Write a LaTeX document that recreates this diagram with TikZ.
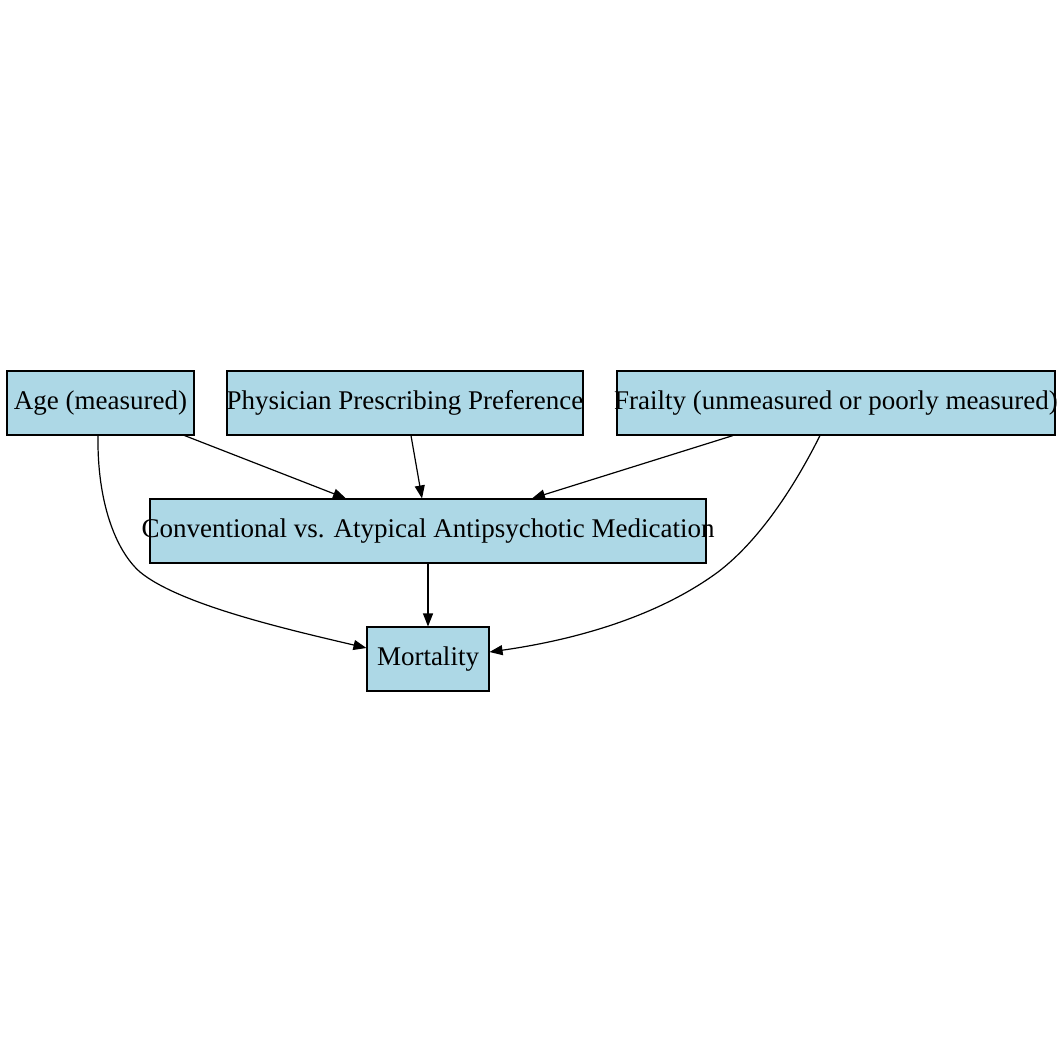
\documentclass[tikz,border=0pt]{standalone}
\usepackage{fontspec}
\setmainfont{Liberation Serif}
\usetikzlibrary{arrows.meta}
\begin{document}
\begin{tikzpicture}[x=1pt,y=-1pt,
  box/.style={draw=black, fill=lightblue, line width=1.1pt, inner sep=0pt, minimum height=64pt, font=\fontsize{27}{30}\selectfont},
  edge/.style={draw=black, line width=1.2pt, -{Triangle[length=13pt,width=10pt]}}]
\definecolor{lightblue}{HTML}{ADD8E6}
\useasboundingbox (0,0) rectangle (1062,1062);
\fill[white] (0,0) rectangle (1062,1062);
\node[box, minimum width=187pt] (age) at (100.5,403) {\makebox[0pt]{Age (measured)}};
\node[box, minimum width=356pt] (phy) at (405,403) {\makebox[0pt]{Physician Prescribing Preference}};
\node[box, minimum width=438pt] (fr) at (836,403) {\makebox[0pt]{Frailty (unmeasured or poorly measured)}};
\node[box, minimum width=556pt] (med) at (428,531) {\makebox[0pt]{Conventional vs. Atypical Antipsychotic Medication}};
\node[box, minimum width=122pt] (mort) at (428,659) {\makebox[0pt]{Mortality}};
\draw[edge] (age.south east) ++(-10,0) -- ([xshift=-82pt]med.north);
\draw[edge] ([xshift=6pt]phy.south) -- ([xshift=-6pt]med.north);
\draw[edge] ([xshift=-103pt]fr.south) -- ([xshift=104pt]med.north);
\draw[edge] (med) -- (mort);
\draw[edge] ([xshift=-2.5pt]age.south) .. controls +(-1,65) and (115,550) .. (140,572) .. controls (180,605) and (290,630) .. ([yshift=11pt]mort.west);
\draw[edge] ([xshift=-16pt]fr.south) .. controls +(-25,50) and (760,540) .. (718,572) .. controls (650,622) and (560,642) .. ([yshift=7pt]mort.east);
\end{tikzpicture}
\end{document}
